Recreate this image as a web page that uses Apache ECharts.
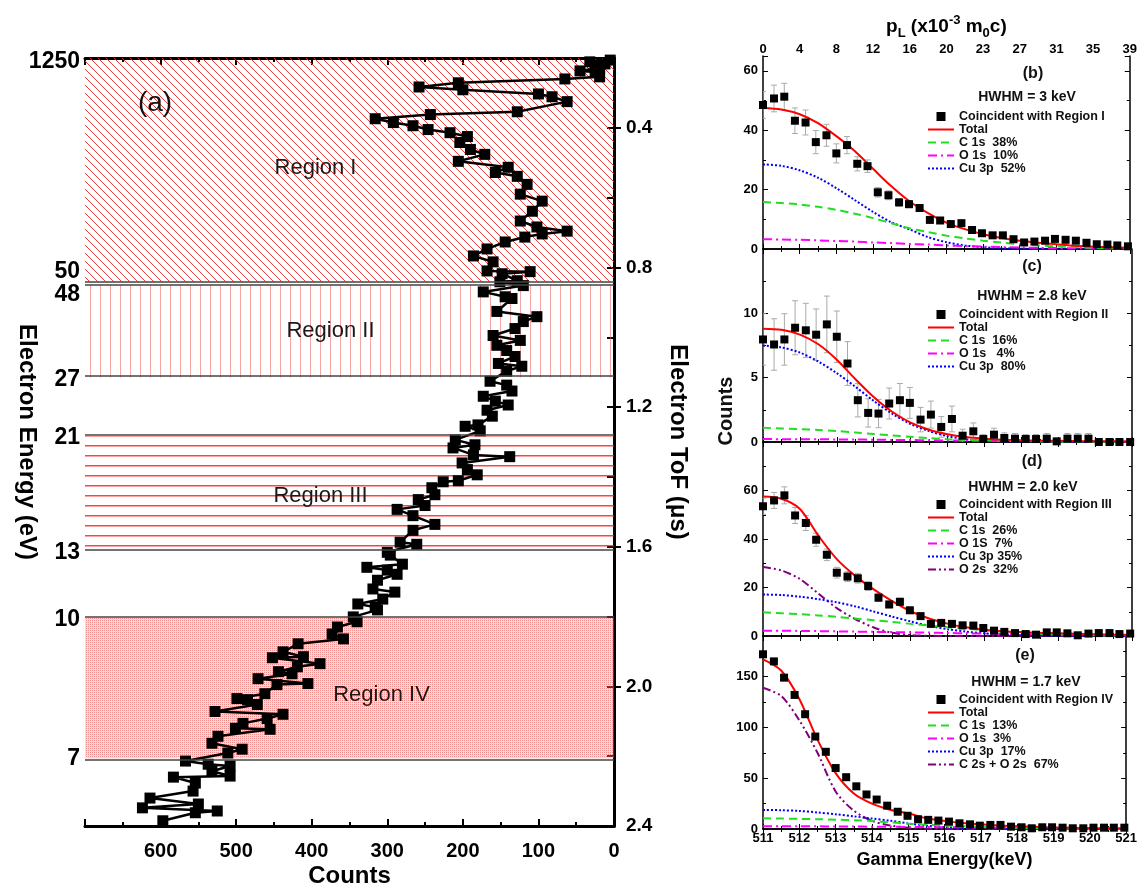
<!DOCTYPE html>
<html>
<head>
<meta charset="utf-8">
<title>Electron ToF / Doppler broadening</title>
<script src="https://cdn.jsdelivr.net/npm/echarts@6/dist/echarts.min.js"></script>
<style>
  html, body { margin: 0; padding: 0; background: #fff; }
  #chart { width: 1140px; height: 893px; }
</style>
</head>
<body>
<div id="chart"></div>
<script>
var FONT = '"Liberation Sans", Arial, sans-serif';

// ---- panel (a): counts vs electron time of flight ----
var tofA = [
	0.206,0.211,0.217,0.228,0.237,0.240,0.254,0.260,0.271,0.283,
	0.291,0.303,0.311,0.325,0.354,0.362,0.374,0.385,0.394,0.405,
	0.414,0.425,0.442,0.462,0.476,0.496,0.513,0.528,0.539,0.562,
	0.590,0.610,0.639,0.667,0.684,0.696,0.704,0.713,0.727,0.747,
	0.767,0.784,0.810,0.812,0.818,0.838,0.841,0.852,0.870,0.884,
	0.889,0.926,0.941,0.955,0.975,0.995,1.009,1.023,1.038,1.055,
	1.075,1.083,1.097,1.126,1.137,1.154,1.169,1.183,1.194,1.209,
	1.226,1.251,1.255,1.268,1.294,1.308,1.317,1.337,1.342,1.360,
	1.379,1.394,1.411,1.414,1.431,1.451,1.465,1.482,1.493,1.511,
	1.536,1.553,1.587,1.593,1.616,1.624,1.650,1.659,1.667,1.679,
	1.696,1.721,1.730,1.750,1.764,1.773,1.781,1.801,1.815,1.830,
	1.850,1.864,1.878,1.901,1.915,1.918,1.935,1.944,1.958,1.964,
	1.978,1.992,1.995,2.021,2.035,2.038,2.052,2.072,2.080,2.092,
	2.106,2.120,2.123,2.143,2.163,2.180,2.191,2.214,2.223,2.228,
	2.243,2.257,2.260,2.277,2.300,2.320,2.337,2.348,2.357,2.362,
	2.385
];
var countsA = [
	5,32,12,19,45,25,19,65,206,258,
	200,100,82,62,128,243,316,292,266,246,
	217,194,204,190,171,206,140,157,128,115,
	124,95,108,124,102,62,95,118,144,168,
	186,160,168,111,148,128,151,120,173,144,
	135,155,102,120,131,160,124,155,142,131,
	153,122,142,164,142,135,173,157,140,168,
	161,180,197,177,210,184,213,186,138,201,
	194,181,206,226,241,237,259,250,287,266,
	237,266,283,261,300,296,280,327,300,287,
	313,319,290,306,339,316,313,345,340,366,
	373,358,418,438,411,452,389,419,444,426,
	471,405,446,462,499,485,472,528,438,459,
	491,501,455,524,532,492,511,567,537,508,
	532,508,583,554,557,614,550,624,525,554,
	597
];

// energy labels on the left axis and where they sit on the ToF scale
var energyLabels = ['1250', '50', '48', '27', '21', '13', '10', '7'];
var energyLabelTof = [0.21, 0.813, 0.878, 1.12, 1.288, 1.616, 1.81, 2.206];
var energyTickTof = [0.4, 0.8, 1.2, 1.6, 2.0];

// regions in ToF (us) and boundary lines
var regionNames = ['Region I', 'Region II', 'Region III', 'Region IV'];
var regionFrom = [0.2, 0.850, 1.283, 1.804];
var regionTo = [0.841, 1.115, 1.610, 2.206];
var boundaryTof = [0.841, 0.850, 1.115, 1.280, 1.610, 1.804, 2.206];

// ---- panels (b)-(e): gamma energy spectra ----
var pLabels = ['0', '4', '8', '12', '16', '20', '23', '27', '31', '35', '39'];
var gammaPts = [511.0, 511.3, 511.58, 511.87, 512.16, 512.44, 512.73, 513.0, 513.29, 513.57, 513.85, 514.13,
	514.42, 514.71, 514.98, 515.27, 515.55, 515.83, 516.12, 516.41, 516.7, 516.97, 517.26, 517.54,
	517.83, 518.12, 518.4, 518.69, 518.96, 519.25, 519.53, 519.82, 520.1, 520.39, 520.66, 520.95];
var fitX = [511, 511.5, 512, 512.5, 513, 513.5, 514, 514.5, 515, 515.5, 516,
	516.5, 517, 517.5, 518, 518.5, 519, 519.5, 520, 520.5, 521];

var countsB = [48.5, 50.7, 51.3, 43.2, 42.6, 36.0, 38.3, 32.2, 35.0, 28.7, 27.9, 19.1,
	18.1, 15.7, 15.1, 13.8, 9.8, 9.6, 8.4, 8.7, 6.4, 5.3, 4.6, 4.6,
	3.3, 2.2, 2.5, 2.8, 3.4, 3.1, 2.8, 2.1, 1.6, 1.5, 1.2, 0.9];
var errB = [4.5, 4.5, 4.5, 4.3, 4.2, 3.9, 3.7, 3.2, 2.9, 2.4, 2.1, 1.6,
	1.5, 1.3, 1.2, 1.1, 1.0, 1.0, 0.9, 0.9, 0.8, 0.7, 0.6, 0.6,
	0.5, 0.5, 0.5, 0.5, 0.5, 0.5, 0.5, 0.4, 0.4, 0.4, 0.4, 0.4];
var totalB = [47.5, 47.0, 45.4, 42.4, 38.0, 33.0, 27.0, 21.1, 16.0, 12.1, 8.9, 6.7, 5.0, 3.7, 2.8, 2.1, 1.6, 1.1, 0.8, 0.6, 0.4];
var c1sB = [15.8, 15.5, 15.0, 14.2, 13.2, 11.9, 10.4, 8.7, 7.0, 5.7, 4.5, 3.6, 2.8, 2.2, 1.6, 1.2, 0.9, 0.6, 0.4, 0.3, 0.2];
var o1sB = [3.3, 3.2, 3.1, 2.9, 2.7, 2.5, 2.2, 2.0, 1.7, 1.5, 1.2, 1.0, 0.8, 0.65, 0.5, 0.4, 0.3, 0.25, 0.2, 0.15, 0.1];
var cu3pB = [28.5, 28.0, 26.5, 24.0, 20.5, 16.5, 12.5, 9.0, 6.6, 4.0, 2.3, 1.2, 0.6, 0.3, 0.1, 0.05, 0, 0, 0, 0, 0];

var countsC = [7.97, 7.58, 7.97, 8.88, 8.68, 8.34, 9.14, 8.18, 6.10, 3.25, 2.26, 2.21,
	2.99, 3.25, 3.04, 1.74, 2.13, 1.17, 1.79, 0.49, 0.83, 0.23, 0.57, 0.31,
	0.26, 0.23, 0.23, 0.26, 0.05, 0.26, 0.26, 0.26, 0.0, 0.0, 0.0, 0.0];
var errC = [2.0, 2.0, 2.0, 2.1, 2.1, 2.0, 2.2, 2.0, 1.7, 1.3, 1.1, 1.1,
	1.2, 1.3, 1.2, 0.95, 1.05, 0.8, 1.0, 0.5, 0.65, 0.35, 0.5, 0.4,
	0.4, 0.35, 0.35, 0.4, 0.2, 0.4, 0.4, 0.4, 0.1, 0.1, 0.1, 0.1];
var totalC = [8.8, 8.72, 8.35, 7.6, 6.4, 4.9, 3.5, 2.35, 1.5, 0.95, 0.6, 0.38, 0.25, 0.18, 0.14, 0.11, 0.09, 0.07, 0.06, 0.05, 0.04];
var c1sC = [1.1, 1.05, 1.0, 0.93, 0.85, 0.74, 0.62, 0.51, 0.4, 0.3, 0.22, 0.16, 0.12, 0.09, 0.06, 0.04, 0.03, 0.02, 0.01, 0.01, 0];
var o1sC = [0.23, 0.22, 0.22, 0.21, 0.2, 0.19, 0.18, 0.16, 0.15, 0.14, 0.12, 0.11, 0.1, 0.09, 0.08, 0.07, 0.06, 0.05, 0.04, 0.035, 0.03];
var cu3pC = [7.5, 7.35, 6.95, 6.25, 5.35, 4.3, 3.2, 2.2, 1.4, 0.85, 0.45, 0.22, 0.1, 0.05, 0.02, 0.01, 0, 0, 0, 0, 0];

var countsD = [53.5, 55.9, 58.0, 49.7, 46.6, 39.7, 33.5, 26.1, 24.5, 23.8, 20.6, 15.8,
	13.0, 14.1, 10.6, 8.2, 5.0, 5.4, 5.0, 4.4, 4.3, 3.3, 2.2, 1.7,
	1.2, 0.8, 0.55, 1.5, 1.5, 1.1, 0.3, 1.0, 1.2, 1.2, 0.8, 1.0];
var errD = [3.3, 3.3, 3.5, 3.3, 3.1, 2.7, 2.4, 2.2, 2.0, 2.0, 1.8, 1.6,
	1.4, 1.5, 1.3, 1.1, 0.9, 0.9, 0.9, 0.8, 0.8, 0.7, 0.6, 0.5,
	0.5, 0.4, 0.3, 0.5, 0.5, 0.4, 0.2, 0.4, 0.4, 0.4, 0.3, 0.4];
var totalD = [57.5, 56.6, 52.4, 41.4, 31.7, 24.8, 19.2, 14.4, 10.2, 7.2, 5.1, 3.6, 2.6, 2.0, 1.6, 1.3, 1.1, 0.9, 0.7, 0.55, 0.4];
var c1sD = [9.8, 9.4, 9.0, 8.5, 7.9, 7.2, 6.5, 5.8, 5.0, 4.3, 3.6, 3.0, 2.4, 1.8, 1.3, 0.9, 0.6, 0.45, 0.3, 0.2, 0.1];
var o1sD = [2.2, 2.15, 2.1, 2.0, 1.9, 1.8, 1.7, 1.6, 1.5, 1.4, 1.25, 1.1, 1.0, 0.9, 0.8, 0.7, 0.6, 0.5, 0.4, 0.35, 0.3];
var cu3pD = [17.1, 16.9, 16.2, 15.2, 13.9, 12.2, 10.1, 8.0, 6.0, 4.2, 2.8, 1.8, 1.1, 0.6, 0.3, 0.2, 0.1, 0.05, 0, 0, 0];
var o2sD = [28.5, 27.0, 23.5, 17.5, 11.5, 7.0, 3.5, 1.3, 0.4, 0.1, 0, 0, 0, 0, 0, 0, 0, 0, 0, 0, 0];

var countsE = [172, 165, 149, 132, 113, 91, 76, 60, 51, 42, 34, 29,
	23, 17, 13, 9.6, 9, 8.3, 7.3, 5.6, 4.6, 3.3, 4.0, 4.0,
	2.3, 1.7, 0.7, 1.7, 1.7, 1.3, 0.7, 0.7, 1.3, 1.3, 1.3, 1.3];
var totalE = [167, 156, 128, 88, 55, 35, 25, 19, 15.5, 10.5, 8.0, 6.0, 4.6, 3.5, 2.7, 2.1, 1.6, 1.2, 0.9, 0.7, 0.5];
var c1sE = [10.5, 10.3, 10.0, 9.6, 9.2, 8.6, 7.8, 6.6, 5.2, 4.3, 3.5, 2.8, 2.2, 1.7, 1.3, 0.9, 0.6, 0.4, 0.3, 0.2, 0.1];
var o1sE = [2.8, 2.75, 2.7, 2.6, 2.5, 2.4, 2.3, 2.2, 2.0, 1.9, 1.75, 1.6, 1.45, 1.3, 1.2, 1.05, 0.95, 0.8, 0.7, 0.6, 0.5];
var cu3pE = [18.8, 18.5, 17.8, 16.3, 14.5, 12.5, 10.3, 8.2, 5.5, 3.3, 1.8, 0.9, 0.4, 0.2, 0.1, 0, 0, 0, 0, 0, 0];
var co2sE = [139, 131, 107, 75, 37, 18, 8, 3.5, 1.2, 0.3, 0, 0, 0, 0, 0, 0, 0, 0, 0, 0, 0];

// fill patterns for the four regions
function makePattern(w, h, draw) {
	var c = document.createElement('canvas');
	c.width = w;
	c.height = h;
	draw(c.getContext('2d'));
	return { image: c, repeat: 'repeat' };
}
var regionFills = [
	makePattern(8, 8, function (ctx) {
		ctx.strokeStyle = 'rgba(235,40,40,0.9)';
		ctx.lineWidth = 1;
		ctx.beginPath();
		ctx.moveTo(-1, -1); ctx.lineTo(9, 9);
		ctx.moveTo(-1, 7); ctx.lineTo(1, 9);
		ctx.moveTo(7, -1); ctx.lineTo(9, 1);
		ctx.stroke();
	}),
	makePattern(10, 4, function (ctx) {
		ctx.fillStyle = 'rgba(240,90,90,0.55)';
		ctx.fillRect(0, 0, 1, 4);
	}),
	makePattern(4, 10, function (ctx) {
		ctx.fillStyle = 'rgba(255,20,20,0.8)';
		ctx.fillRect(0, 5, 4, 1.5);
	}),
	makePattern(2, 2, function (ctx) {
		ctx.fillStyle = 'rgba(250,150,150,0.35)';
		ctx.fillRect(0, 0, 2, 2);
		ctx.fillStyle = 'rgba(230,50,50,0.45)';
		ctx.fillRect(0, 0, 1, 1);
	})
];
var regionLabelOffset = [[-34, -2], [-19, 0], [-29, 3], [32, 7]];

function zip(xs, ys) {
	return xs.map(function (x, i) { return [x, ys[i]]; });
}

var boldText = { fontFamily: FONT, fontWeight: 'bold', color: '#000' };

// ---------- grids ----------
var grids = [
	{ left: 85, top: 58, width: 529, height: 771 },
	{ left: 763, top: 56, width: 369, height: 193 },
	{ left: 763, top: 249, width: 369, height: 193 },
	{ left: 763, top: 442, width: 369, height: 194 },
	{ left: 763, top: 636, width: 369, height: 193 }
];

var xAxes = [];
var yAxes = [];

// panel (a) axes
xAxes.push({
	gridIndex: 0, type: 'value', min: 0, max: 700, interval: 100, inverse: true, position: 'bottom',
	name: 'Counts', nameLocation: 'middle', nameGap: 38, nameMoveOverlap: false,
	nameTextStyle: { fontFamily: FONT, fontWeight: 'bold', fontSize: 24, color: '#000' },
	axisLine: { lineStyle: { color: '#000', width: 3 } },
	axisTick: { inside: true, length: 7, lineStyle: { width: 2, color: '#000' } },
	minorTick: { show: true, splitNumber: 2, length: 4, lineStyle: { width: 2, color: '#000' } },
	axisLabel: Object.assign({ fontSize: 20, margin: 15, showMaxLabel: false }, boldText),
	splitLine: { show: false }
});
xAxes.push({
	gridIndex: 0, type: 'value', min: 0, max: 700, interval: 100, inverse: true, position: 'top',
	axisLine: { lineStyle: { color: '#000', width: 3 } },
	axisTick: { inside: true, length: 7, lineStyle: { width: 2, color: '#000' } },
	minorTick: { show: true, splitNumber: 2, length: 4, lineStyle: { width: 2, color: '#000' } },
	axisLabel: { show: false },
	splitLine: { show: false }
});
yAxes.push({
	gridIndex: 0, type: 'value', min: 0.2, max: 2.4, interval: 0.2, inverse: true, position: 'right',
	name: 'Electron ToF (\u03bcs)', nameLocation: 'middle', nameGap: 52, nameRotate: -90, nameMoveOverlap: false,
	nameTextStyle: { fontFamily: FONT, fontWeight: 'bold', fontSize: 24, color: '#000' },
	axisLine: { lineStyle: { color: '#000', width: 3 } },
	axisTick: { inside: true, length: 7, lineStyle: { width: 2, color: '#000' } },
	axisLabel: Object.assign({
		fontSize: 19, margin: 12,
		formatter: function (v) {
			return Math.round(v * 10) % 4 === 0 ? v.toFixed(1) : '';
		}
	}, boldText),
	splitLine: { show: false }
});
yAxes.push({
	gridIndex: 0, type: 'value', min: 0.2, max: 2.4, inverse: true, position: 'left',
	name: 'Electron Energy (eV)', nameLocation: 'middle', nameGap: 46, nameRotate: -90, nameMoveOverlap: false,
	nameTextStyle: { fontFamily: FONT, fontWeight: 'bold', fontSize: 24, color: '#000' },
	axisLine: { lineStyle: { color: '#000', width: 3 } },
	axisTick: { inside: true, length: 7, customValues: energyTickTof, lineStyle: { width: 2, color: '#000' } },
	axisLabel: Object.assign({
		fontSize: 23, margin: 5,
		customValues: energyLabelTof,
		formatter: function (v) {
			for (var i = 0; i < energyLabelTof.length; i++) {
				if (Math.abs(v - energyLabelTof[i]) < 1e-6) return energyLabels[i];
			}
			return '';
		}
	}, boldText),
	splitLine: { show: false }
});

// panels (b)-(e) axes
var yMax = [65, 15, 80, 190];
var yInterval = [20, 5, 20, 50];
for (var p = 0; p < 4; p++) {
	var isLast = p === 3;
	xAxes.push({
		gridIndex: p + 1, type: 'value', min: 511, max: 521, interval: 1, position: 'bottom',
		name: isLast ? 'Gamma Energy(keV)' : '', nameLocation: 'middle', nameGap: 22,
		nameTextStyle: { fontFamily: FONT, fontWeight: 'bold', fontSize: 18, color: '#000' },
		axisLine: { lineStyle: { color: '#000', width: 1.5 } },
		axisTick: { inside: true, length: 5, lineStyle: { color: '#000' } },
		minorTick: { show: true, splitNumber: 2, length: 3, lineStyle: { color: '#000' } },
		axisLabel: Object.assign({ show: isLast, fontSize: 13, margin: 3 }, boldText),
		splitLine: { show: false }
	});
	yAxes.push({
		gridIndex: p + 1, type: 'value', min: 0, max: yMax[p], interval: yInterval[p], position: 'left',
		axisLine: { lineStyle: { color: '#000', width: 1.5 } },
		axisTick: { inside: true, length: 5, lineStyle: { color: '#000' } },
		minorTick: { show: true, splitNumber: 2, length: 3, lineStyle: { color: '#000' } },
		axisLabel: Object.assign({ fontSize: 13, margin: 5, showMaxLabel: false }, boldText),
		splitLine: { show: false }
	});
}
for (var q = 0; q < 4; q++) {
	var isFirst = q === 0;
	xAxes.push({
		gridIndex: q + 1, type: 'value', min: 511, max: 521, interval: 1, position: 'top',
		name: isFirst ? '{a|p}{s|L}{a| (x10}{u|-3}{a| m}{s|0}{a|c)}' : '',
		nameLocation: 'middle', nameGap: 16,
		nameTextStyle: {
			rich: {
				a: { fontFamily: FONT, fontWeight: 'bold', fontSize: 19, color: '#000', lineHeight: 26 },
				s: { fontFamily: FONT, fontWeight: 'bold', fontSize: 13, color: '#000', verticalAlign: 'bottom', lineHeight: 26, padding: [10, 0, 0, 0] },
				u: { fontFamily: FONT, fontWeight: 'bold', fontSize: 13, color: '#000', verticalAlign: 'top', lineHeight: 26, padding: [0, 0, 10, 0] }
			}
		},
		axisLine: { lineStyle: { color: '#000', width: 1.5 } },
		axisTick: { inside: true, length: 5, lineStyle: { color: '#000' } },
		minorTick: { show: true, splitNumber: 2, length: 3, lineStyle: { color: '#000' } },
		axisLabel: Object.assign({
			show: isFirst, fontSize: 13, margin: 0,
			formatter: function (v) { return pLabels[Math.round(v - 511)]; }
		}, boldText),
		splitLine: { show: false }
	});
	yAxes.push({
		gridIndex: q + 1, type: 'value', min: 0, max: yMax[q], interval: yInterval[q], position: 'right',
		axisLine: { lineStyle: { color: '#000', width: 1.5 } },
		axisTick: { inside: true, length: 5, lineStyle: { color: '#000' } },
		minorTick: { show: true, splitNumber: 2, length: 3, lineStyle: { color: '#000' } },
		axisLabel: { show: false },
		splitLine: { show: false }
	});
}

// ---------- series ----------
var series = [];

series.push({
	name: 'ToF', type: 'line', xAxisIndex: 0, yAxisIndex: 0, z: 2,
	data: zip(countsA, tofA),
	symbol: 'rect', symbolSize: 11,
	itemStyle: { color: '#000' },
	lineStyle: { color: '#000', width: 2.5 },
	animation: false
});

// hatched regions go over the data, as in the original
series.push({
	name: 'regions', type: 'line', xAxisIndex: 0, yAxisIndex: 0, z: 5, data: [],
	silent: true,
	markArea: {
		silent: true,
		data: regionNames.map(function (name, i) {
			return [{
				name: name, yAxis: regionFrom[i],
				itemStyle: { color: regionFills[i], borderWidth: 0 },
				label: { offset: regionLabelOffset[i] }
			}, { yAxis: regionTo[i] }];
		}),
		label: { show: true, position: 'inside', fontFamily: FONT, fontSize: 22, color: '#1a1a1a' }
	},
	markLine: {
		silent: true, symbol: 'none', animation: false,
		label: { show: false },
		lineStyle: { color: '#444', width: 1.5, type: 'solid' },
		data: boundaryTof.map(function (t) { return { yAxis: t }; })
	}
});

var panels = [
	{ counts: countsB, err: errB, name: 'Coincident with Region I',
		fits: [['Total', totalB], ['C 1s  38%', c1sB], ['O 1s  10%', o1sB], ['Cu 3p  52%', cu3pB]] },
	{ counts: countsC, err: errC, name: 'Coincident with Region II',
		fits: [['Total', totalC], ['C 1s  16%', c1sC], ['O 1s   4%', o1sC], ['Cu 3p  80%', cu3pC]] },
	{ counts: countsD, err: errD, name: 'Coincident with Region III',
		fits: [['Total', totalD], ['C 1s  26%', c1sD], ['O 1S  7%', o1sD], ['Cu 3p 35%', cu3pD], ['O 2s  32%', o2sD]] },
	{ counts: countsE, err: null, name: 'Coincident with Region IV',
		fits: [['Total', totalE], ['C 1s  13%', c1sE], ['O 1s  3%', o1sE], ['Cu 3p  17%', cu3pE], ['C 2s + O 2s  67%', co2sE]] }
];

// line style per component, in the order used above
var fitStyles = [
	{ color: '#ff0000', width: 2, type: 'solid' },
	{ color: '#22dd22', width: 2, type: [8, 5] },
	{ color: '#ff00ff', width: 2, type: [9, 4, 2, 4] },
	{ color: '#0000ff', width: 2, type: [2, 2] },
	{ color: '#800080', width: 2, type: [8, 3, 2, 3, 2, 3] }
];

function errorBars(params, api) {
	var x = api.value(0);
	var lo = api.coord([x, api.value(1)]);
	var hi = api.coord([x, api.value(2)]);
	var style = { stroke: '#aaaaaa', lineWidth: 1 };
	return {
		type: 'group',
		children: [
			{ type: 'line', shape: { x1: lo[0], y1: lo[1], x2: hi[0], y2: hi[1] }, style: style },
			{ type: 'line', shape: { x1: lo[0] - 3, y1: lo[1], x2: lo[0] + 3, y2: lo[1] }, style: style },
			{ type: 'line', shape: { x1: hi[0] - 3, y1: hi[1], x2: hi[0] + 3, y2: hi[1] }, style: style }
		]
	};
}

var legends = [];
var legendTops = [110, 308, 498, 693];

panels.forEach(function (pn, i) {
	var xi = 2 + i, yi = 2 + i;
	if (pn.err) {
		series.push({
			type: 'custom', xAxisIndex: xi, yAxisIndex: yi, z: 1, silent: true, clip: true,
			renderItem: errorBars,
			encode: { x: 0, y: [1, 2] },
			data: gammaPts.map(function (g, k) {
				return [g, pn.counts[k] - pn.err[k], pn.counts[k] + pn.err[k]];
			})
		});
	}
	pn.fits.slice().reverse().forEach(function (f, kr) {
		var k = pn.fits.length - 1 - kr;
		series.push({
			name: f[0], type: 'line', xAxisIndex: xi, yAxisIndex: yi, z: k === 0 ? 4 : 3,
			data: zip(fitX, f[1]), smooth: 0.3, symbol: 'none',
			lineStyle: fitStyles[k], itemStyle: { color: fitStyles[k].color },
			animation: false
		});
	});
	series.push({
		name: pn.name, type: 'scatter', xAxisIndex: xi, yAxisIndex: yi, z: 5,
		data: zip(gammaPts, pn.counts), symbol: 'rect', symbolSize: 8,
		itemStyle: { color: '#000', opacity: 1 }, animation: false
	});
	legends.push({
		orient: 'vertical', left: 927, top: legendTops[i], padding: 0,
		itemGap: 0, itemWidth: 26, itemHeight: 9,
		selectedMode: false,
		// only the line is wanted for the fit curves, so their symbol is hidden
		itemStyle: { opacity: 0 },
		textStyle: { fontFamily: FONT, fontWeight: 'bold', fontSize: 12.5, color: '#111' },
		data: [{ name: pn.name, icon: 'path://M0,0h10v10h-10z', itemStyle: { opacity: 1, color: '#000' } }]
			.concat(pn.fits.map(function (f) { return f[0]; }))
	});
});

function label(text, x, y, size, weight) {
	return {
		type: 'text', x: x, y: y, z: 20,
		style: {
			text: text, fontFamily: FONT, fontSize: size, fontWeight: weight || 'bold',
			fill: '#111', align: 'center', verticalAlign: 'middle'
		}
	};
}

var graphics = [
	label('(a)', 155, 103, 28, 'normal'),
	label('(b)', 1033, 74, 16), label('HWHM = 3 keV', 1027, 97, 14),
	label('(c)', 1032, 267, 16), label('HWHM = 2.8 keV', 1032, 296, 14),
	label('(d)', 1032, 462, 16), label('HWHM = 2.0 keV', 1023, 487, 14),
	label('(e)', 1025, 656, 16), label('HWHM = 1.7 keV', 1026, 682, 14)
];
var countsTitle = label('Counts', 726, 411, 20);
countsTitle.rotation = Math.PI / 2;
graphics.push(countsTitle);

var chart = echarts.init(document.getElementById('chart'), null, { renderer: 'canvas' });
chart.setOption({
	backgroundColor: '#fff',
	animation: false,
	grid: grids,
	xAxis: xAxes,
	yAxis: yAxes,
	legend: legends,
	series: series,
	graphic: graphics
});
</script>
</body>
</html>
